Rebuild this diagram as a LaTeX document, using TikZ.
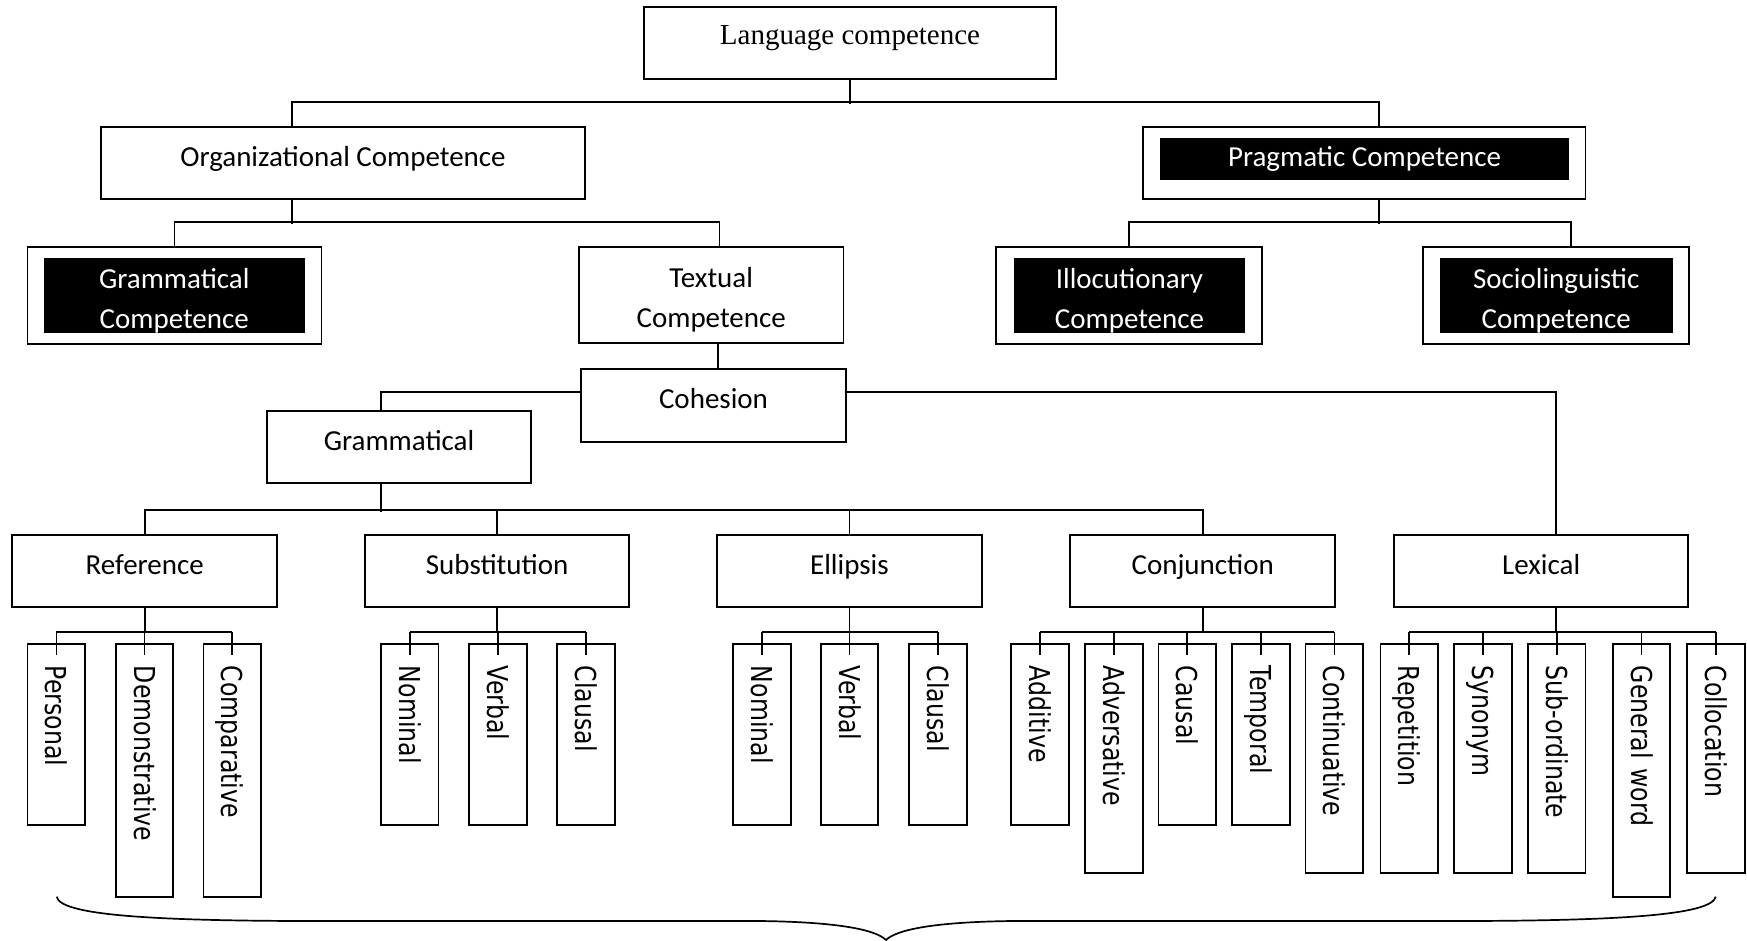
\documentclass[tikz,border=0pt]{standalone}
\usepackage{fontspec}
\setmainfont{Carlito}
\newfontfamily\timesf{Liberation Serif}
\newfontfamily\leaff[FakeStretch=0.82]{DejaVu Sans}
\usetikzlibrary{calc}
\newcommand{\myfs}{\fontsize{29}{40}\selectfont}
\newcommand{\tallstrut}{\rule{0pt}{30pt}}
\tikzset{
  box/.style={draw, line width=1.8pt, fill=white, inner sep=0pt, font=\myfs, text height=18pt, text depth=12pt},
  boxtwo/.style={draw, line width=1.8pt, fill=white, inner sep=0pt, font=\myfs, align=center},
  frame/.style={draw, line width=1.8pt, fill=white, inner sep=0pt},
  blk/.style={fill=black, text=white, inner sep=0pt, font=\myfs, text height=26pt, text depth=12pt},
  blktwo/.style={fill=black, text=white, inner sep=0pt, font=\myfs, align=center},
  leaf/.style={draw, line width=1.8pt, rotate=-90, anchor=west, inner xsep=22pt, inner ysep=0pt,
    minimum height=57.7pt, text height=21pt, text depth=0pt, align=left,
    font=\leaff\fontsize{28.8}{34}\selectfont},
  sh/.style={leaf, text width=136.7pt},
  md/.style={leaf, text width=184.7pt},
  lg/.style={leaf, text width=208.7pt},
  conn/.style={line width=1.8pt},
}
\begin{document}
\begin{tikzpicture}[x=1pt,y=-1pt]
\useasboundingbox (0,0) rectangle (1747,940);

% top
\node[box, font=\timesf\fontsize{29}{35}\selectfont, text height=14pt, text depth=12pt,
  minimum width=412pt, minimum height=72pt] (lang) at (850,43) {Language competence};
\node[box, minimum width=484pt, minimum height=72pt] (org) at (343,163) {Organizational Competence};
\node[frame, minimum width=442.5pt, minimum height=72pt] (prag) at (1364.25,163) {};
\node[blk, minimum width=409pt, minimum height=42pt] (pragin) at (1364.5,159) {Pragmatic Competence};

% level 3
\node[frame, minimum width=294pt, minimum height=96.7pt] (gc) at (174.5,295.35) {};
\node[blktwo, minimum width=261pt, minimum height=74.7pt] (gcin) at (174.25,295.35) {\tallstrut Grammatical\\Competence};
\node[boxtwo, minimum width=264.4pt, minimum height=96pt] (tc) at (711.2,295) {\tallstrut Textual\\Competence};
\node[frame, minimum width=266pt, minimum height=97pt] (ic) at (1128.7,295.5) {};
\node[blktwo, minimum width=231.7pt, minimum height=75pt] (icin) at (1129.5,295.5) {\tallstrut Illocutionary\\Competence};
\node[frame, minimum width=265.4pt, minimum height=97pt] (sc) at (1556,295.5) {};
\node[blktwo, minimum width=232.5pt, minimum height=75pt] (scin) at (1556.25,295.5) {\tallstrut Sociolinguistic\\Competence};

% cohesion
\node[box, minimum width=265pt, minimum height=72.7pt] (coh) at (713.5,405.35) {Cohesion};
\node[box, minimum width=264pt, minimum height=72.3pt] (gram) at (399,447.15) {Grammatical};

% level 4
\node[box, minimum width=264.9pt, minimum height=72.3pt] (ref) at (144.75,571.15) {Reference};
\node[box, minimum width=263.7pt, minimum height=72.3pt] (subst) at (497.15,571.15) {Substitution};
\node[box, minimum width=264.5pt, minimum height=72.3pt] (ell) at (849.45,571.15) {Ellipsis};
\node[box, minimum width=264.9pt, minimum height=72.3pt] (conj) at (1202.75,571.15) {Conjunction};
\node[box, minimum width=294.1pt, minimum height=72.3pt] (lex) at (1541.15,571.15) {Lexical};

% leaves
\node[sh] (per) at (56.4,643) {Personal};
\node[lg] (dem) at (144.5,643) {Demonstrative};
\node[lg] (com) at (232.3,643) {Comparative};
\node[sh] (nom) at (409.65,643) {Nominal};
\node[sh] (ver) at (497.75,643) {Verbal};
\node[sh] (cla) at (586.1,643) {Clausal};
\node[sh] (nomb) at (761.8,643) {Nominal};
\node[sh] (verb) at (849.5,643) {Verbal};
\node[sh] (clab) at (938.2,643) {Clausal};
\node[sh] (add) at (1040,643) {Additive};
\node[md] (adv) at (1113.8,643) {Adversative};
\node[sh] (cau) at (1187.3,643) {Causal};
\node[sh] (tem) at (1260.9,643) {Temporal};
\node[md] (con) at (1334.4,643) {Continuative};
\node[md] (rep) at (1409.3,643) {Repetition};
\node[md] (syn) at (1483.1,643) {Synonym};
\node[md] (subo) at (1556.6,643) {Sub-ordinate};
\node[lg] (gen) at (1641.5,643) {General word};
\node[md] (col) at (1716.2,643) {Collocation};

% connectors top
\draw[conn] (lang.south) -- ++(0,24);
\draw[conn] ([xshift=-51pt]org.north) -- ++(0,-24) -| ([xshift=14.75pt]prag.north);
\draw[conn] ([xshift=-51pt]org.south) -- ++(0,23.7);
\draw[conn] (gc.north) -- ++(0,-24.3) -| ([xshift=8.2pt]tc.north);
\draw[conn] ([xshift=14.75pt]prag.south) -- ++(0,23.7);
\draw[conn] (ic.north) -- ++(0,-24.3) -| ([xshift=15pt]sc.north);
\draw[conn] ([xshift=6.8pt]tc.south) -- ([xshift=4.5pt]coh.north);
\draw[conn] ([yshift=13.35pt]coh.west) -| ([xshift=-18pt]gram.north);
\draw[conn] ([yshift=13.35pt]coh.east) -| ([xshift=14.55pt]lex.north);
\draw[conn] ([xshift=-18pt]gram.south) -- ++(0,28);
\draw[conn] (ref.north) -- ++(0,-23.85) -| (conj.north);
\draw[conn] (subst.north) -- ++(0,-24);
\draw[conn] (ell.north) -- ++(0,-24);

% connectors to leaves
\foreach \p in {ref,subst,ell,conj} \draw[conn] (\p.south) -- ++(0,24.5);
\draw[conn] ([xshift=14.55pt]lex.south) -- ++(0,24.5);
\foreach \c in {per,dem,com,nom,ver,cla,nomb,verb,clab,add,adv,cau,tem,con,rep,syn,subo,gen,col}
  \draw[conn] ($(\c.west)+(0,12)$) -- ++(0,-23.3);
\draw[conn] ($(per.west)+(0,-11.3)$) -- ($(com.west)+(0,-11.3)$);
\draw[conn] ($(nom.west)+(0,-11.3)$) -- ($(cla.west)+(0,-11.3)$);
\draw[conn] ($(nomb.west)+(0,-11.3)$) -- ($(clab.west)+(0,-11.3)$);
\draw[conn] ($(add.west)+(0,-11.3)$) -- ($(con.west)+(0,-11.3)$);
\draw[conn] ($(rep.west)+(0,-11.3)$) -- ($(col.west)+(0,-11.3)$);

% brace
\draw[line width=1.7pt] (56.7,896.7) .. controls (60,915) and (150,920.5) .. (300,921)
  -- (760,921) .. controls (840,922) and (876,930) .. (886,940)
  .. controls (896,930) and (932,922) .. (1012,921)
  -- (1470,921) .. controls (1620,920.5) and (1712,915) .. (1715.7,896.7);
\end{tikzpicture}
\end{document}
